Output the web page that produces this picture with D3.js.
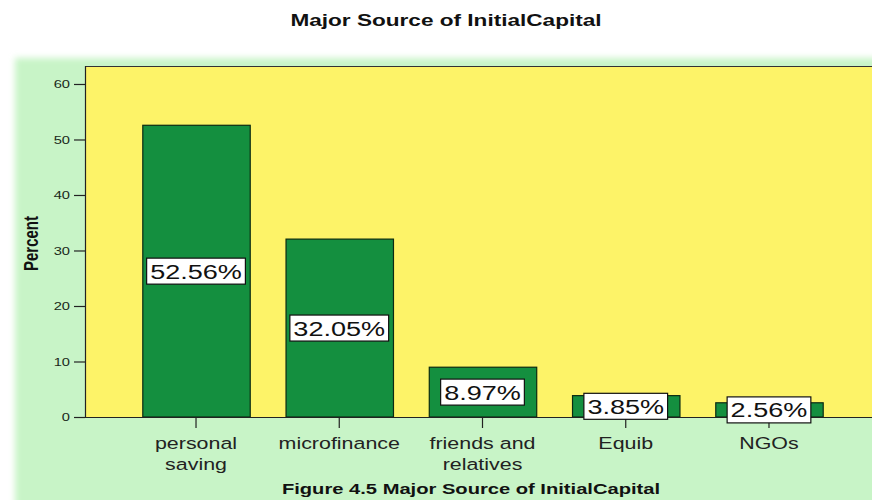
<!DOCTYPE html>
<html>
<head>
<meta charset="utf-8">
<script src="https://cdn.jsdelivr.net/npm/d3@7"></script>
<style>
  html, body { margin: 0; padding: 0; background: #ffffff; }
  svg { display: block; }
  text { font-family: "Liberation Sans", Arial, sans-serif; fill: #111; }
</style>
</head>
<body>
<svg id="chart" width="872" height="500"></svg>
<script>
// Sources of initial capital, percent of respondents
const categories = ["personal\nsaving", "microfinance", "friends and\nrelatives", "Equib", "NGOs"];
const percents = [52.56, 32.05, 8.97, 3.85, 2.56];
const yTicks = [0, 10, 20, 30, 40, 50, 60];
const chartTitle = "Major Source of InitialCapital";
const yTitle = "Percent";
const caption = "Figure 4.5 Major Source of InitialCapital";

const W = 872, H = 500;
const SX = 1.32; // wide text face
const plot = { left: 85, right: 880, top: 66, bottom: 417 };

const svg = d3.select("#chart");

// wide text helper
function wideText(g, x, y, str, size, weight, anchor, sx) {
  return g.append("text")
    .attr("transform", `translate(${x},${y}) scale(${sx || SX},1)`)
    .attr("text-anchor", anchor || "middle")
    .style("font-size", size + "px")
    .style("font-weight", weight || "normal")
    .text(str);
}

// soft panel behind the plot
const defs = svg.append("defs");
defs.append("filter").attr("id", "soft")
  .attr("x", "-5%").attr("y", "-5%").attr("width", "110%").attr("height", "110%")
  .append("feGaussianBlur").attr("stdDeviation", 3);

svg.append("rect").attr("x", 15).attr("y", 58).attr("width", W + 20).attr("height", H)
  .attr("fill", "#c8f4c7").attr("filter", "url(#soft)");

const x = d3.scaleBand()
  .domain(categories)
  .range([plot.left, plot.right])
  .paddingInner(0.25)
  .paddingOuter(0.4);

const y = d3.scaleLinear()
  .domain([0, 63.24])
  .range([plot.bottom, plot.top]);

// plot background
svg.append("rect")
  .attr("x", plot.left).attr("y", plot.top)
  .attr("width", plot.right - plot.left).attr("height", plot.bottom - plot.top)
  .attr("fill", "#fdf368");

svg.append("line")
  .attr("x1", plot.left).attr("x2", W).attr("y1", plot.top + 0.5).attr("y2", plot.top + 0.5)
  .attr("stroke", "#333").attr("stroke-width", 1.2);

// bars
svg.append("g").selectAll("rect")
  .data(percents)
  .join("rect")
  .attr("x", (d, i) => x(categories[i]) + 0.5)
  .attr("y", d => y(d))
  .attr("width", x.bandwidth())
  .attr("height", d => y(0) - y(d))
  .attr("fill", "#148f3f")
  .attr("stroke", "#0b2a12")
  .attr("stroke-width", 1.2);

// y axis
const yAxis = svg.append("g")
  .attr("transform", `translate(${plot.left},0)`)
  .call(d3.axisLeft(y).tickValues(yTicks).tickSize(11).tickPadding(4).tickFormat(d3.format("d")));
yAxis.select(".domain").attr("stroke", "#222").attr("stroke-width", 1.2)
  .attr("d", `M0.5,${plot.top}V${plot.bottom}`);
yAxis.selectAll(".tick line").attr("stroke", "#222").attr("stroke-width", 1.2);
yAxis.selectAll(".tick text").remove();
yAxis.selectAll(".tick").each(function (d) {
  wideText(d3.select(this), -15, 3.8, d, 10.5, "normal", "end", 1.4).style("fill", "#1a2a1a");
});

// x axis
const xAxis = svg.append("g")
  .attr("transform", `translate(0,${plot.bottom})`)
  .call(d3.axisBottom(x).tickSize(11).tickFormat(""));
xAxis.select(".domain").attr("stroke", "#222").attr("stroke-width", 1.2)
  .attr("d", `M${plot.left},0.5H${W}`);
xAxis.selectAll(".tick line").attr("stroke", "#222").attr("stroke-width", 1.2);
xAxis.selectAll(".tick").each(function (d) {
  const g = d3.select(this);
  d.split("\n").forEach((line, k) => {
    wideText(g, 0, 32 + k * 21, line, 17, "normal", "middle", 1.26).style("fill", "#222");
  });
});

// value labels in white boxes at bar mid-height
const labelG = svg.append("g");
percents.forEach((v, i) => {
  const cx = x(categories[i]) + x.bandwidth() / 2;
  const cy = (y(v) + y(0)) / 2;
  const g = labelG.append("g");
  const t = wideText(g, cx, cy + 7.5, v.toFixed(2) + "%", 20.5, "normal", "middle", 1.32);
  const bb = t.node().getBBox();
  const w = bb.width * 1.32 + 7;
  g.insert("rect", "text")
    .attr("x", cx - w / 2).attr("y", cy - 13)
    .attr("width", w).attr("height", 26)
    .attr("fill", "#ffffff").attr("stroke", "#111").attr("stroke-width", 1.2);
});

// titles
wideText(svg, 446, 26, chartTitle, 16.5, "bold", "middle", 1.37);
svg.append("text")
  .attr("transform", `translate(38,${(plot.top + plot.bottom) / 2 + 2}) scale(1.3,1) rotate(-90)`)
  .attr("text-anchor", "middle")
  .style("font-size", "15px")
  .style("font-weight", "bold")
  .text(yTitle);
wideText(svg, 471, 494, caption, 14.7, "bold", "middle", 1.37);
</script>
</body>
</html>
